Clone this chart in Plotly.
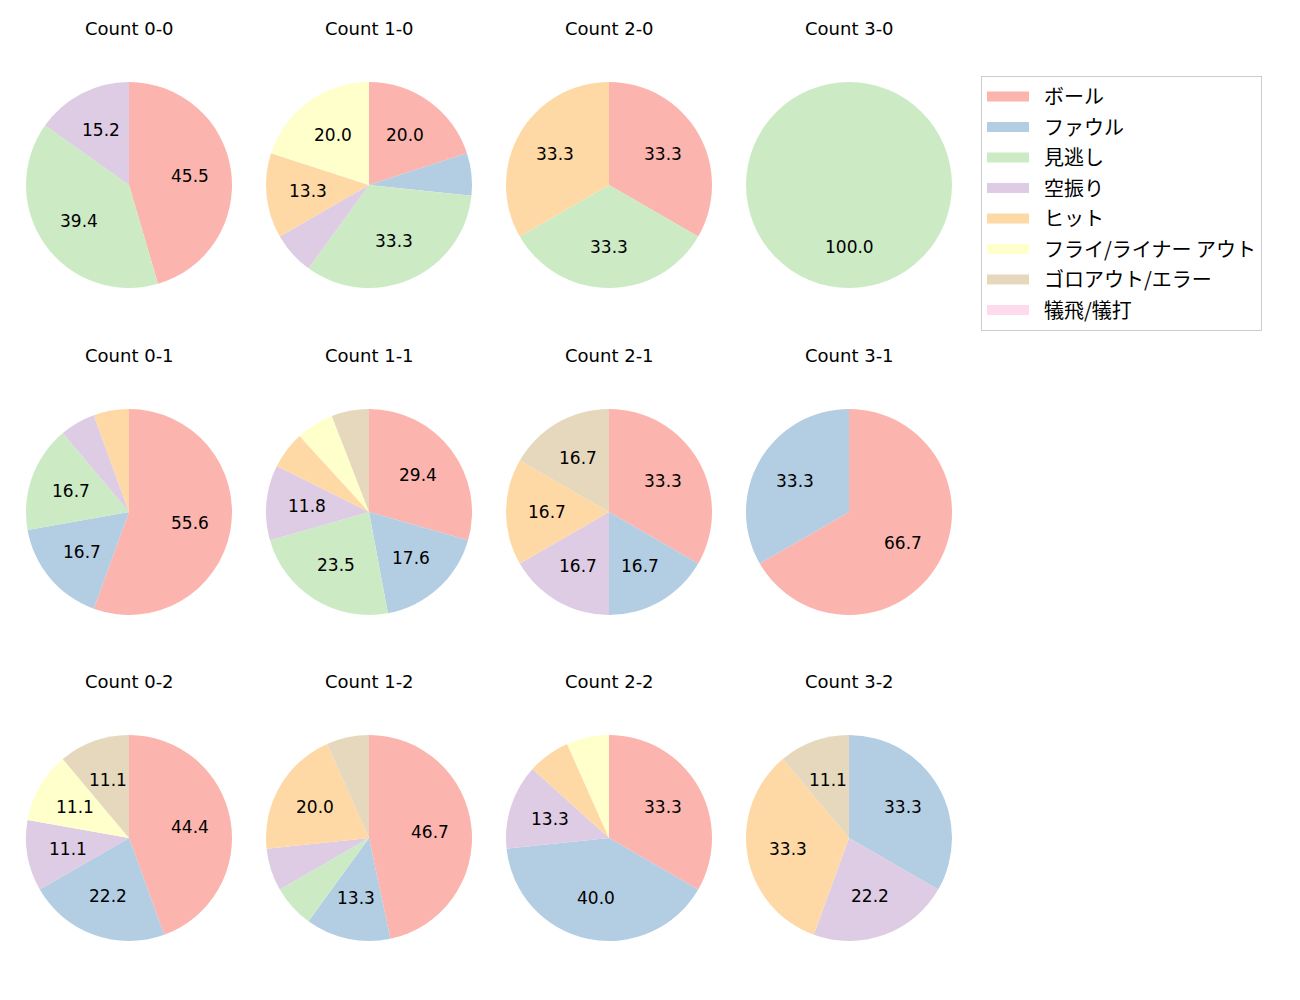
import math
import plotly.graph_objects as go

categories = ["ボール", "ファウル", "見逃し", "空振り", "ヒット",
              "フライ/ライナー アウト", "ゴロアウト/エラー", "犠飛/犠打"]
colors = ["#fbb4ae", "#b3cde3", "#ccebc5", "#decbe4", "#fed9a6",
          "#ffffcc", "#e5d8bd", "#fddaec"]

counts = ["0-0", "1-0", "2-0", "3-0",
          "0-1", "1-1", "2-1", "3-1",
          "0-2", "1-2", "2-2", "3-2"]

v_0_0 = [15, 0, 13, 5, 0, 0, 0, 0]
v_1_0 = [3, 1, 5, 1, 2, 3, 0, 0]
v_2_0 = [1, 0, 1, 0, 1, 0, 0, 0]
v_3_0 = [0, 0, 1, 0, 0, 0, 0, 0]
v_0_1 = [10, 3, 3, 1, 1, 0, 0, 0]
v_1_1 = [5, 3, 4, 2, 1, 1, 1, 0]
v_2_1 = [2, 1, 0, 1, 1, 0, 1, 0]
v_3_1 = [2, 1, 0, 0, 0, 0, 0, 0]
v_0_2 = [4, 2, 0, 1, 0, 1, 1, 0]
v_1_2 = [7, 2, 1, 1, 3, 0, 1, 0]
v_2_2 = [5, 6, 0, 2, 1, 1, 0, 0]
v_3_2 = [0, 3, 0, 2, 3, 0, 1, 0]

values = [v_0_0, v_1_0, v_2_0, v_3_0,
          v_0_1, v_1_1, v_2_1, v_3_1,
          v_0_2, v_1_2, v_2_2, v_3_2]

W, H = 1300, 1000
col_cx = [129, 369, 609, 849]
row_cy = [185, 512, 838]
R = 103
LATIN = "DejaVu Sans, Noto Sans CJK JP"
JP = "Noto Sans CJK JP"

fig = go.Figure()
annotations = []
for i, (name, vals) in enumerate(zip(counts, values)):
    r, c = divmod(i, 4)
    cx, cy = col_cx[c], row_cy[r]
    dom_x = [(cx - R) / W, (cx + R) / W]
    dom_y = [1 - (cy + R) / H, 1 - (cy - R) / H]
    fig.add_trace(go.Pie(
        labels=categories, values=vals,
        marker=dict(colors=colors, line=dict(width=0)),
        sort=False, direction="clockwise", rotation=0,
        textinfo="none", hoverinfo="label+value+percent",
        domain=dict(x=dom_x, y=dom_y), showlegend=False,
    ))
    total = sum(vals)
    cum = 0
    for v in vals:
        if v > 0:
            pct = 100 * v / total
            mid = (cum + v / 2) / total
            ang = math.pi / 2 - 2 * math.pi * mid
            if pct >= 10:
                px = cx + 0.6 * R * math.cos(ang)
                py = cy - 0.6 * R * math.sin(ang)
                annotations.append(dict(
                    x=px / W, y=1 - py / H, xref="paper", yref="paper",
                    text=f"{pct:.1f}", showarrow=False,
                    font=dict(size=17, color="black", family=LATIN),
                    xanchor="center", yanchor="middle"))
        cum += v
    annotations.append(dict(
        x=cx / W, y=1 - (cy - 157) / H, xref="paper", yref="paper",
        text=f"Count {name}", showarrow=False,
        font=dict(size=18, color="black", family=LATIN),
        xanchor="center", yanchor="middle"))

# legend entries (one per category)
for cat, col in zip(categories, colors):
    fig.add_trace(go.Scatter(
        x=[None], y=[None], mode="lines", name="\u2002" + cat,
        line=dict(color=col, width=15), legendgroup=cat,
        showlegend=True, hoverinfo="skip"))

fig.update_xaxes(visible=False)
fig.update_yaxes(visible=False)

fig.update_layout(
    width=W, height=H,
    margin=dict(l=0, r=0, t=0, b=0),
    paper_bgcolor="white", plot_bgcolor="white",
    font=dict(family=JP, size=16, color="black"),
    annotations=annotations,
    legend=dict(x=981 / W, y=1 - 76 / H, xanchor="left", yanchor="top",
                bordercolor="#cccccc", borderwidth=1,
                font=dict(size=20, family=JP),
                itemwidth=42, traceorder="grouped", tracegroupgap=1.5),
)

fig.write_html("out.html")
